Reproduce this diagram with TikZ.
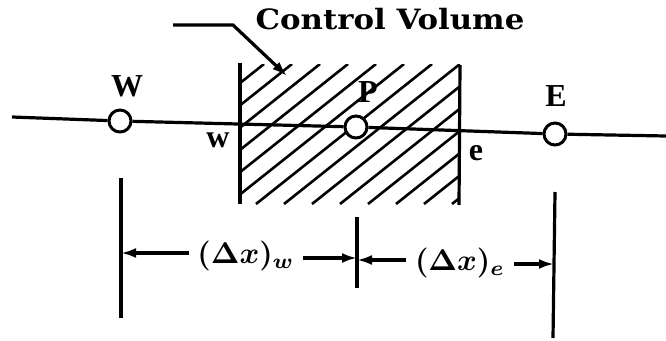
\documentclass[tikz,border=0pt]{standalone}
\usepackage{fontspec}
\setmainfont{Liberation Serif}
\newfontfamily\cvfont{DejaVu Serif}
\usetikzlibrary{calc,positioning,arrows.meta}

\begin{document}
\begin{tikzpicture}[x=1pt,y=-1pt,>={Latex[length=15pt,width=10pt]}]

     \tikzstyle{every node}=[inner sep=0pt,font=\bfseries\fontsize{32}{33}\selectfont]
     \tikzstyle{grid}=[circle,draw,fill=white,line width=3pt,minimum size=22pt]
     \tikzstyle{thk}=[line width=3.2pt]
     \tikzstyle{dimlab}=[scale=3,font=\normalsize\boldmath]
     \useasboundingbox (0,0) rectangle (666,340);

     % hatching of the control volume
     \begin{scope}
     \clip (240,64) rectangle (460,204);
     \foreach \x in {60,88,...,480}
          \draw[line width=2.6pt] (\x,204) -- ++(176,-140);
     \end{scope}
     \coordinate (bw1) at (240,63);
     \coordinate (bw2) at (240,204);
     \coordinate (be1) at (460,65);
     \coordinate (be2) at (459,205);
     \path[thk](bw1)edge(bw2);
     \path[thk](be1)edge(be2);

     % grid points
     \coordinate (lend) at (12,117);
     \coordinate (rend) at (666,136);
     \node[grid](W) at (120,121){};
     \node[grid](P) at (356,127){};
     \node[grid](E) at (555,134){};
     \path[thk](lend)edge(W) (W)edge(P) (P)edge(E) (E)edge(rend);

     \node at ($(W)+(7,-35)$)(Wlab){W};
     \node at ($(P)+(12,-35)$)(Plab){P};
     \node at ($(E)+(1,-38)$)(Elab){E};
     \node at ($(bw1)+(-22,77)$)(wlab){w};
     \node at ($(be1)+(16,88)$)(elab){e};

     \node[xscale=1.1,font=\cvfont\bfseries\fontsize{28}{29}\selectfont] at (390,19)(cv){Control Volume};
     \coordinate (ldr1) at (173,25);
     \coordinate (ldr2) at (233,25);
     \coordinate (ldr3) at (287,76);
     \draw[thk,->](ldr1)--(ldr2)--(ldr3);

     % spacings
     \coordinate (tw1) at (121,178);
     \coordinate (tw2) at (121,318);
     \coordinate (tp1) at (357,217);
     \coordinate (tp2) at (357,288);
     \coordinate (te1) at (555,192);
     \coordinate (te2) at (553,338);
     \path[thk](tw1)edge(tw2) (tp1)edge(tp2) (te1)edge(te2);

     \node[dimlab] at (246,256)(dxw){$(\Delta x)_w$};
     \node[dimlab] at (460,263)(dxe){$(\Delta x)_e$};
     \coordinate (aw) at (121,253);
     \coordinate (apw) at (357,258);
     \coordinate (ape) at (357,260);
     \coordinate (ae) at (554,264);
     \draw[thk,->]($(dxw.west)+(-8,-3)$)--(aw);
     \draw[thk,->]($(dxw.east)+(8,2)$)--(apw);
     \draw[thk,->]($(dxe.west)+(-8,-3)$)--(ape);
     \draw[thk,->]($(dxe.east)+(8,1)$)--(ae);

\end{tikzpicture}
\end{document}
